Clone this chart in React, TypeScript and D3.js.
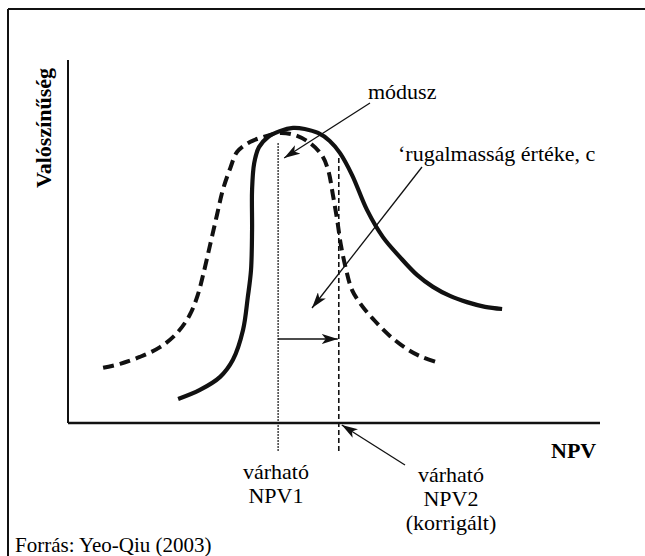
import * as React from "react";
import * as d3 from "d3";

// NPV (x) and probability (y, %)
const solidNpv = [20.7, 24.8, 28.6, 31.0, 32.9, 33.8, 34.4, 34.6, 34.6, 35.0, 35.9, 37.6, 39.8, 42.3, 44.5, 47.0, 49.2, 51.1, 53.4, 56.2, 59.2, 62.4, 65.6, 68.6, 71.8, 75.0, 78.4, 81.6];
const solidProb = [6.6, 9.1, 12.7, 17.4, 25.6, 34.7, 42.1, 53.2, 64.2, 71.6, 76.0, 78.8, 80.4, 81.3, 81.0, 79.9, 77.7, 74.4, 68.3, 58.7, 51.2, 45.7, 40.8, 37.5, 35.0, 33.3, 32.0, 31.4];

const dashedNpv = [6.6, 9.8, 13.5, 17.3, 20.5, 22.9, 24.4, 25.4, 26.7, 28.0, 29.1, 30.5, 31.8, 34.2, 37.4, 39.8, 42.7, 45.5, 47.7, 48.9, 49.8, 50.6, 51.3, 52.3, 53.4, 55.3, 57.7, 60.5, 63.7, 66.5, 69.9];
const dashedProb = [15.2, 16.3, 18.2, 20.9, 24.8, 29.8, 35.3, 40.8, 49.0, 57.3, 64.2, 70.2, 74.7, 77.4, 79.1, 79.9, 79.3, 77.1, 73.8, 69.7, 62.8, 55.9, 49.0, 42.1, 36.6, 32.2, 28.1, 24.0, 20.4, 18.2, 16.5];

// expected values: NPV1 (original), NPV2 (corrected)
const expectedNpv = [39.5, 50.9];
const expectedTop = [77.1, 73.0];
const expectedLabels = [["várható", "NPV1"], ["várható", "NPV2", "(korrigált)"]];

const W = 645;
const H = 556;
const font = "'Liberation Serif', 'Times New Roman', serif";

export default function App() {
  const ref = React.useRef<SVGSVGElement | null>(null);

  React.useEffect(() => {
    const svg = d3.select(ref.current);
    svg.selectAll("*").remove();

    const x = d3.scaleLinear([0, 100], [68, 600]);
    const y = d3.scaleLinear([0, 100], [423, 60]);

    const defs = svg.append("defs");
    defs
      .append("marker")
      .attr("id", "head")
      .attr("viewBox", "0 0 16 10")
      .attr("refX", 16)
      .attr("refY", 5)
      .attr("markerWidth", 16)
      .attr("markerHeight", 10)
      .attr("markerUnits", "userSpaceOnUse")
      .attr("orient", "auto")
      .append("path")
      .attr("d", "M0,0 L16,5 L0,10 L4,5 Z")
      .attr("fill", "#111");

    // frame (top + left only visible in the scan)
    svg.append("line").attr("x1", 8).attr("x2", W).attr("y1", 9).attr("y2", 9)
      .attr("stroke", "#111").attr("stroke-width", 2);
    svg.append("line").attr("x1", 8).attr("x2", 8).attr("y1", 9).attr("y2", H)
      .attr("stroke", "#111").attr("stroke-width", 2);

    // axes
    svg.append("line").attr("x1", x(0)).attr("x2", x(0)).attr("y1", y(100)).attr("y2", y(0))
      .attr("stroke", "#111").attr("stroke-width", 2);
    svg.append("line").attr("x1", x(0)).attr("x2", x(100)).attr("y1", y(0)).attr("y2", y(0))
      .attr("stroke", "#111").attr("stroke-width", 2.5);

    svg.append("text")
      .attr("transform", `translate(51,128) rotate(-90)`)
      .attr("text-anchor", "middle")
      .attr("font-family", font)
      .attr("font-weight", "bold")
      .attr("font-size", 22)
      .text("Valószínűség");

    svg.append("text")
      .attr("x", 551).attr("y", 458)
      .attr("font-family", font)
      .attr("font-weight", "bold")
      .attr("font-size", 22)
      .text("NPV");

    // expected value markers
    const styles = ["1.5,1.5", "5,3"];
    expectedNpv.forEach((v, i) => {
      svg.append("line")
        .attr("x1", x(v)).attr("x2", x(v))
        .attr("y1", y(expectedTop[i])).attr("y2", y(-8))
        .attr("stroke", "#111")
        .attr("stroke-width", 1.6)
        .attr("stroke-dasharray", styles[i]);
    });

    const line = d3
      .line<number>()
      .x((d) => x(d))
      .curve(d3.curveCatmullRom.alpha(0.5));

    svg.append("path")
      .attr("d", line.y((_, i) => y(dashedProb[i]))(dashedNpv))
      .attr("fill", "none")
      .attr("stroke", "#111")
      .attr("stroke-width", 4)
      .attr("stroke-dasharray", "11,6");

    svg.append("path")
      .attr("d", line.y((_, i) => y(solidProb[i]))(solidNpv))
      .attr("fill", "none")
      .attr("stroke", "#111")
      .attr("stroke-width", 4.2);

    // annotations
    const arrow = (x1: number, y1: number, x2: number, y2: number) =>
      svg.append("line")
        .attr("x1", x1).attr("y1", y1).attr("x2", x2).attr("y2", y2)
        .attr("stroke", "#111")
        .attr("stroke-width", 1.3)
        .attr("marker-end", "url(#head)");

    arrow(370, 103, x(expectedNpv[0]) + 6, y(73));
    arrow(422, 167, 312, 308);
    arrow(x(expectedNpv[0]), 339, x(expectedNpv[1]) - 1, 339);
    arrow(405, 465, x(expectedNpv[1]) + 3, y(0) + 2);

    svg.append("text")
      .attr("x", 368).attr("y", 99)
      .attr("font-family", font).attr("font-size", 22)
      .text("módusz");
    svg.append("text")
      .attr("x", 398).attr("y", 161)
      .attr("font-family", font).attr("font-size", 22)
      .text("‘rugalmasság értéke, c");

    const cx = [276, 451];
    const baseY = [479, 482];
    expectedLabels.forEach((lines, i) => {
      lines.forEach((t, j) => {
        svg.append("text")
          .attr("x", cx[i]).attr("y", baseY[i] + j * 24)
          .attr("text-anchor", "middle")
          .attr("font-family", font).attr("font-size", 22)
          .text(t);
      });
    });

    svg.append("text")
      .attr("x", 15).attr("y", 552)
      .attr("font-family", font).attr("font-size", 21)
      .text("Forrás: Yeo-Qiu (2003)");
  }, []);

  return (
    <svg
      ref={ref}
      width={W}
      height={H}
      style={{ position: "absolute", left: 0, top: 0, background: "#fff" }}
    />
  );
}
